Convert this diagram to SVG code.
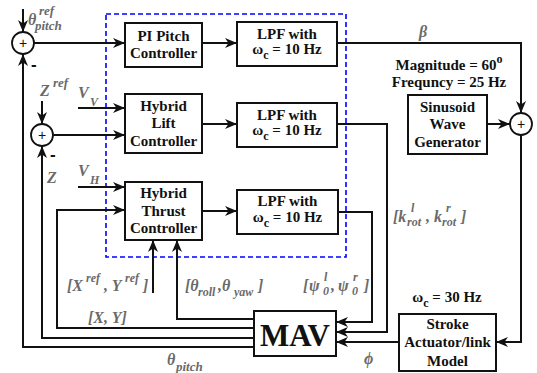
<svg xmlns="http://www.w3.org/2000/svg" width="537" height="373" viewBox="0 0 537 373">
<defs>
<marker id="ah" viewBox="0 0 12 10" refX="12" refY="5" markerWidth="12" markerHeight="10" markerUnits="userSpaceOnUse" orient="auto">
<path d="M0,0 L12,5 L0,10 L3.5,5 z" fill="#111"/>
</marker>
<style>
.box{fill:#fff;stroke:#111;stroke-width:2}
.sum{fill:#fff;stroke:#111;stroke-width:1.8}
.ln{fill:none;stroke:#111;stroke-width:2}
.ar{fill:none;stroke:#111;stroke-width:2;marker-end:url(#ah)}
.bt{font-family:"Liberation Serif","Times New Roman",serif;font-weight:bold;font-size:15px;fill:#111;text-anchor:middle}
.lb{font-family:"Liberation Serif","Times New Roman",serif;font-weight:bold;font-style:italic;font-size:16px;fill:#6a6a6a}
.s{font-size:12px}
.pl{font-family:"Liberation Sans",Arial,sans-serif;font-size:14px;fill:#111;text-anchor:middle}
.mn{font-family:"Liberation Sans",Arial,sans-serif;font-weight:bold;font-size:17px;fill:#111}
</style>
</defs>
<rect width="537" height="373" fill="#fff"/>

<rect id="controller-boundary" x="106" y="14" width="240" height="243" fill="none" stroke="#0000ff" stroke-width="1.6" stroke-dasharray="5,3"/>

<g id="connectors">
<path class="ar" d="M23,9 V32"/>
<path class="ar" d="M34,43 H125"/>
<path class="ar" d="M254,347 H23 V54"/>
<path class="ar" d="M42,101 V124"/>
<path class="ar" d="M78,108 H125"/>
<path class="ar" d="M53,135 H125"/>
<path class="ar" d="M254,338 H42 V146"/>
<path class="ar" d="M78,187 H125"/>
<path class="ar" d="M254,328 H57 V210 H125"/>
<path class="ar" d="M254,319 H177 V240"/>
<path class="ar" d="M153,293 V240"/>
<path class="ar" d="M202,43 H237"/>
<path class="ar" d="M202,124 H237"/>
<path class="ar" d="M202,211 H237"/>
<path class="ar" d="M337,43 H521 V113"/>
<path class="ar" d="M487,124 H510"/>
<path class="ar" d="M521,135 V342 H496"/>
<path class="ar" d="M399,342 H336"/>
<path class="ar" d="M337,124 H387 V332 H336"/>
<path class="ar" d="M338,212 H372 V322 H336"/>
</g>

<g id="sum1"><circle class="sum" cx="23" cy="43" r="11"/><text class="pl" x="23" y="48">+</text></g>
<g id="sum2"><circle class="sum" cx="42" cy="135" r="11"/><text class="pl" x="42" y="140">+</text></g>
<g id="sum3"><circle class="sum" cx="521" cy="124" r="11"/><text class="pl" x="521" y="129">+</text></g>

<g id="pi-pitch"><rect class="box" x="125" y="23" width="77" height="44"/>
<text class="bt" x="163.5" y="41">PI Pitch</text><text class="bt" x="163.5" y="58">Controller</text></g>

<g id="lpf1"><rect class="box" x="237" y="22" width="100" height="44"/>
<text class="bt" x="287" y="39">LPF with</text><text class="bt" x="287" y="54">ω<tspan dy="5" class="s">c</tspan><tspan dy="-5"> = 10 Hz</tspan></text></g>

<g id="hybrid-lift"><rect class="box" x="125" y="94" width="77" height="59"/>
<text class="bt" x="163.5" y="111">Hybrid</text><text class="bt" x="163.5" y="128">Lift</text><text class="bt" x="163.5" y="146">Controller</text></g>

<g id="lpf2"><rect class="box" x="237" y="103" width="100" height="44"/>
<text class="bt" x="287" y="120">LPF with</text><text class="bt" x="287" y="135">ω<tspan dy="5" class="s">c</tspan><tspan dy="-5"> = 10 Hz</tspan></text></g>

<g id="hybrid-thrust"><rect class="box" x="125" y="182" width="77" height="58"/>
<text class="bt" x="163.5" y="198">Hybrid</text><text class="bt" x="163.5" y="216">Thrust</text><text class="bt" x="163.5" y="233">Controller</text></g>

<g id="lpf3"><rect class="box" x="237" y="190" width="101" height="44"/>
<text class="bt" x="287.5" y="206">LPF with</text><text class="bt" x="287.5" y="222">ω<tspan dy="5" class="s">c</tspan><tspan dy="-5"> = 10 Hz</tspan></text></g>

<g id="sinusoid"><rect class="box" x="408" y="95" width="79" height="59"/>
<text class="bt" x="447.5" y="112">Sinusoid</text><text class="bt" x="447.5" y="129">Wave</text><text class="bt" x="447.5" y="147">Generator</text>
<text class="bt" x="449" y="70">Magnitude = 60<tspan dy="-7" class="s">o</tspan></text>
<text class="bt" x="449" y="87">Frequncy = 25 Hz</text></g>

<g id="actuator"><rect class="box" x="399" y="314" width="97" height="57"/>
<text class="bt" x="447.5" y="329">Stroke</text><text class="bt" x="447.5" y="347">Actuator/link</text><text class="bt" x="447.5" y="366">Model</text>
<text class="bt" x="447" y="302">ω<tspan dy="5" class="s">c</tspan><tspan dy="-5"> = 30 Hz</tspan></text></g>

<g id="mav"><rect class="box" x="254" y="311" width="82" height="45"/>
<text class="bt" x="295" y="346" style="font-size:31px">MAV</text></g>

<g id="labels">
<text class="lb" x="28" y="25">θ</text><text class="lb" x="39" y="15" style="font-size:13px">ref</text><text class="lb" x="35" y="30" style="font-size:13px">pitch</text>
<text class="mn" x="31" y="70">-</text>
<text class="lb" x="40" y="96">Z</text><text class="lb" x="53" y="87" style="font-size:13px">ref</text>
<text class="mn" x="50" y="160">-</text>
<text class="lb" x="78" y="98">V</text><text class="lb" x="90" y="106" style="font-size:12px">V</text>
<text class="lb" x="78" y="176">V</text><text class="lb" x="90" y="184" style="font-size:12px">H</text>
<text class="lb" x="47" y="183">Z</text>
<text class="lb" x="419" y="37">β</text>
<text class="lb" x="67" y="291">[X<tspan x="86" y="282" style="font-size:12px">ref</tspan><tspan x="104" y="291">, Y</tspan><tspan x="125" y="282" style="font-size:12px">ref</tspan><tspan x="143" y="291">]</tspan></text>
<text class="lb" x="185" y="291">[θ<tspan x="198" y="296" style="font-size:12px">roll</tspan><tspan x="218" y="291">,θ</tspan><tspan x="234" y="296" style="font-size:12px">yaw</tspan><tspan x="258" y="291">]</tspan></text>
<text class="lb" x="303" y="291">[<tspan x="309">ψ</tspan><tspan x="324" y="281" style="font-size:12px">l</tspan><tspan x="323" y="295" style="font-size:12px">0</tspan><tspan x="331" y="291">,</tspan><tspan x="338">ψ</tspan><tspan x="353" y="281" style="font-size:12px">r</tspan><tspan x="352" y="295" style="font-size:12px">0</tspan><tspan x="364" y="291">]</tspan></text>
<text class="lb" x="393" y="222">[k<tspan x="411" y="212" style="font-size:12px">l</tspan><tspan x="407" y="226" style="font-size:12px">rot</tspan><tspan x="426" y="222">, k</tspan><tspan x="446" y="212" style="font-size:12px">r</tspan><tspan x="442" y="226" style="font-size:12px">rot</tspan><tspan x="461" y="222">]</tspan></text>
<text class="lb" x="88" y="323">[X, Y]</text>
<text class="lb" x="167" y="365">θ</text><text class="lb" x="176" y="371" style="font-size:13px">pitch</text>
<text class="lb" x="364" y="364">ϕ</text>
</g>
</svg>
